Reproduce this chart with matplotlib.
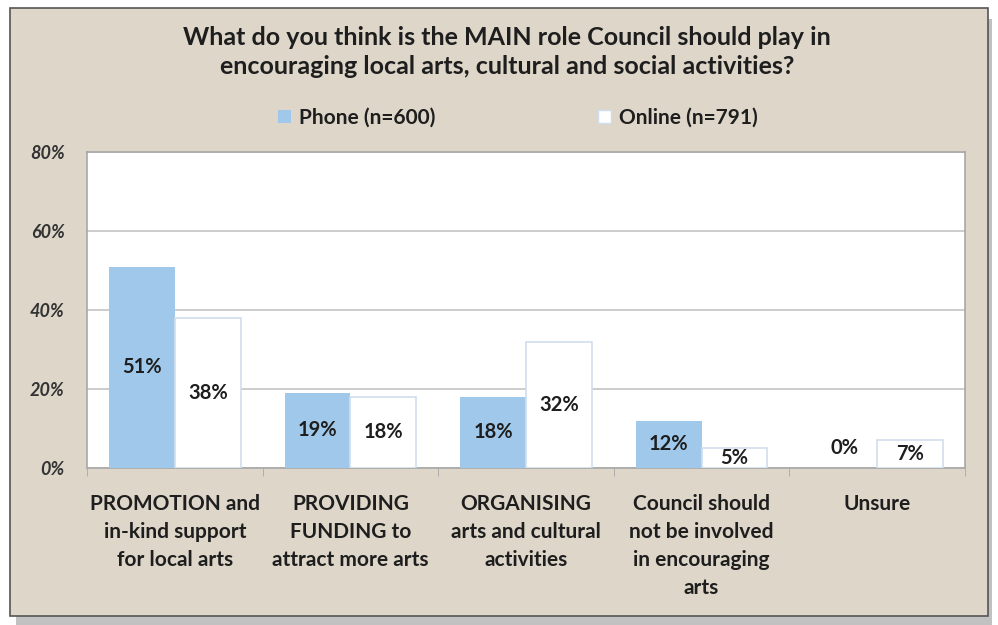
import matplotlib

matplotlib.use("Agg")
import matplotlib.pyplot as plt
import numpy as np
from matplotlib.patches import Rectangle

categories = [
    "PROMOTION and\nin-kind support\nfor local arts",
    "PROVIDING\nFUNDING to\nattract more arts",
    "ORGANISING\narts and cultural\nactivities",
    "Council should\nnot be involved\nin encouraging\narts",
    "Unsure",
]
phone = [51, 19, 18, 12, 0]
online = [38, 18, 32, 5, 7]
series_names = ["Phone (n=600)", "Online (n=791)"]
y_ticks = [0, 20, 40, 60, 80]

PANEL = "#ddd6c9"
PHONE_BLUE = "#a0c8ea"
ONLINE_EDGE = "#cfdeec"
INK = "#1e1e1e"
GRID = "#c4c4c4"

plt.rcParams["font.family"] = ["Lato", "DejaVu Sans"]

W, H = 998, 625
fig = plt.figure(figsize=(W / 100, H / 100), dpi=100)
fig.patch.set_facecolor("white")

# panel with a soft drop shadow
fig.patches.append(Rectangle((16 / W, 1 - 625 / H), 976 / W, 606 / H,
                             transform=fig.transFigure, facecolor="#8e8e8e",
                             edgecolor="none", alpha=0.55, zorder=0))
fig.patches.append(Rectangle((10 / W, 1 - 616 / H), 978 / W, 608 / H,
                             transform=fig.transFigure, facecolor=PANEL,
                             edgecolor="#555555", linewidth=1.2, zorder=1))

ax = fig.add_axes([87 / W, 1 - 468 / H, (965 - 87) / W, (468 - 152) / H], zorder=2)
ax.set_facecolor("white")

x = np.arange(len(categories))
bw = 0.375
ax.bar(x - bw / 2, phone, width=bw, color=PHONE_BLUE, zorder=3)
ax.bar(x + bw / 2, online, width=bw, color="white", edgecolor=ONLINE_EDGE,
       linewidth=1.2, zorder=3)

for xi, v in zip(x - bw / 2, phone):
    ax.text(xi, v / 2 if v else 5, f"{v}%", ha="center", va="center",
            fontsize=14.5, fontweight="bold", color=INK, zorder=4)
for xi, v in zip(x + bw / 2, online):
    ax.text(xi, v / 2 if v else 5, f"{v}%", ha="center", va="center",
            fontsize=14.5, fontweight="bold", color=INK, zorder=4)

ax.set_xlim(-0.5, len(categories) - 0.5)
ax.set_ylim(0, 80)
ax.set_yticks(y_ticks, [f"{t}%" for t in y_ticks])
ax.tick_params(axis="y", length=0, pad=16, labelsize=13, labelcolor="#333333")
for lab in ax.get_yticklabels():
    lab.set_fontstyle("italic")
    lab.set_fontweight("bold")
ax.grid(axis="y", color=GRID, linewidth=1.2, zorder=0)

ax.set_xticks(x, categories)
ax.set_xticks(np.arange(len(categories) + 1) - 0.5, minor=True)
ax.tick_params(axis="x", which="major", length=0, pad=19, labelsize=15,
               labelcolor=INK)
ax.tick_params(axis="x", which="minor", length=6, color="#a8a8a8")
for lab in ax.get_xticklabels():
    lab.set_fontweight("bold")
    lab.set_va("top")
    lab.set_linespacing(1.5)

for side in ("top", "right", "left", "bottom"):
    ax.spines[side].set_color("#a8a8a8")
    ax.spines[side].set_linewidth(1.2)

fig.text(0.508, 1 - 52 / H,
         "What do you think is the MAIN role Council should play in\n"
         "encouraging local arts, cultural and social activities?",
         ha="center", va="center", fontsize=18, fontweight="bold", color=INK,
         linespacing=1.3, zorder=3)

handles = [Rectangle((0, 0), 1, 1, facecolor=PHONE_BLUE, edgecolor="none"),
           Rectangle((0, 0), 1, 1, facecolor="white", edgecolor=ONLINE_EDGE)]
leg = fig.legend(handles, series_names, loc="center", ncol=2,
                 bbox_to_anchor=(518 / W, 1 - 118 / H), frameon=False,
                 fontsize=15, columnspacing=7.8, handlelength=0.6,
                 handleheight=0.6, handletextpad=0.4)
for t in leg.get_texts():
    t.set_fontweight("bold")
    t.set_color(INK)

fig.savefig("out.png", dpi=100, facecolor="white")
